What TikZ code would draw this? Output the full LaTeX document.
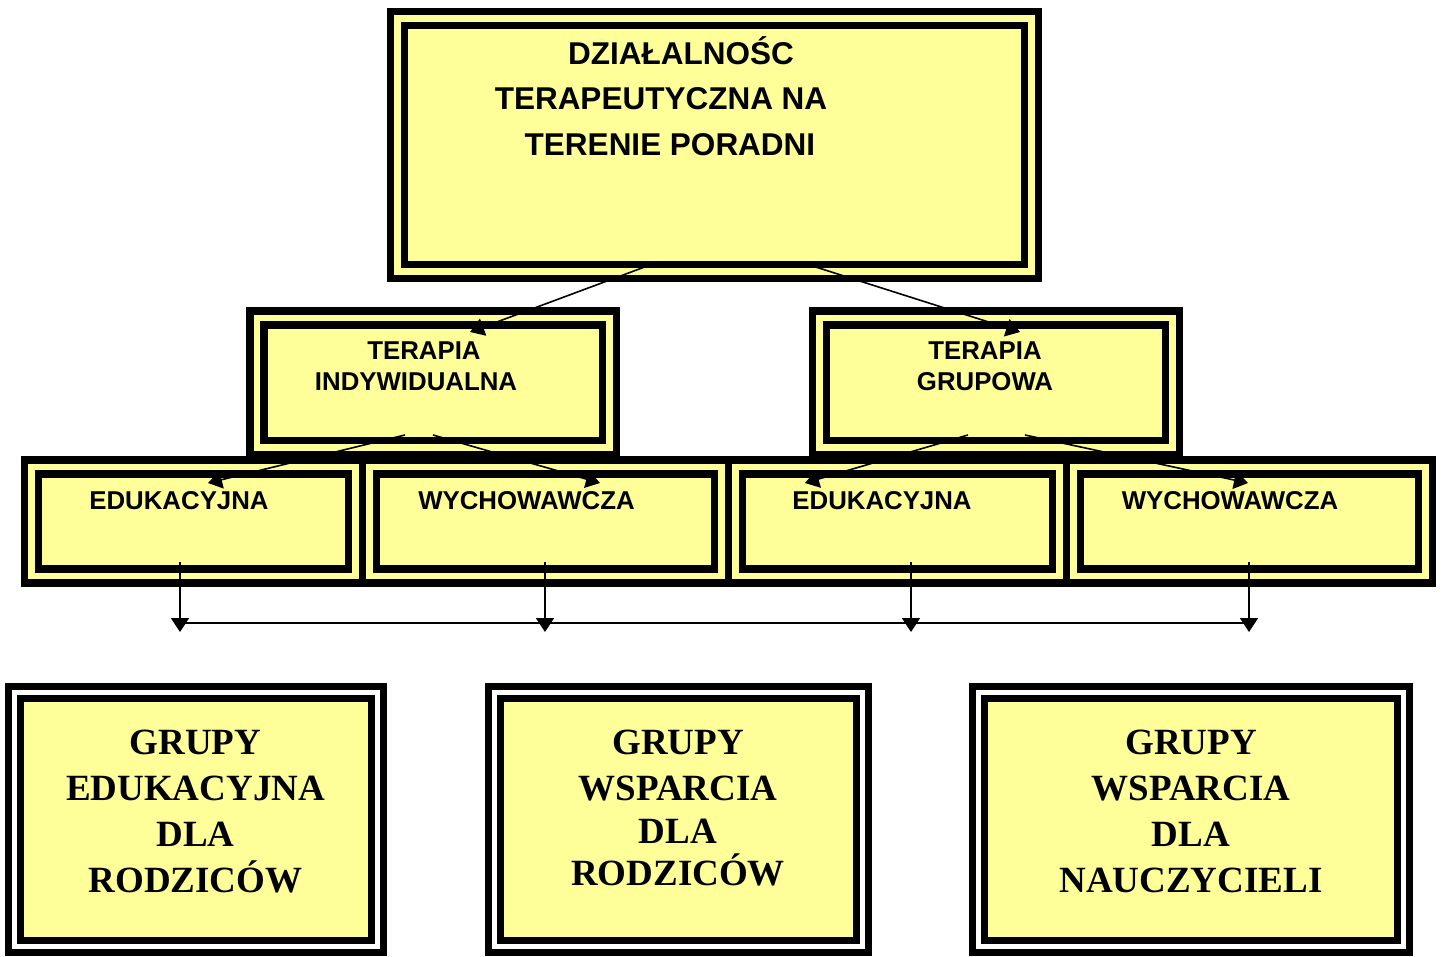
\documentclass[tikz,border=0pt]{standalone}
\usepackage{fontspec}
\setmainfont{Liberation Serif}
\setsansfont{Liberation Sans}
\usetikzlibrary{arrows.meta}
\definecolor{paleyellow}{RGB}{255,255,153}
\tikzset{
  box/.style={draw=black, fill=paleyellow, line width=7.5pt, double=paleyellow,
    double distance=6.5pt, inner sep=0pt, outer sep=0pt},
  groupbox/.style={draw=black, fill=paleyellow, line width=7pt, double=white,
    double distance=5pt, inner sep=0pt, outer sep=0pt},
  headtext/.style={font=\sffamily\bfseries\fontsize{31.5}{45.5}\selectfont, align=center, anchor=base},
  midtext/.style={font=\sffamily\bfseries\fontsize{25.8}{31}\selectfont, align=center, anchor=base},
  grouptext/.style={font=\rmfamily\bfseries\fontsize{37}{46}\selectfont, align=center, anchor=base},
  conn/.style={line width=1.6pt, -{Triangle[length=14pt,width=18pt]}}
}
\begin{document}
\begin{tikzpicture}[x=1pt, y=-1pt]
  \useasboundingbox (0,0) rectangle (1442,956);
  % boxes
  \node[box, minimum width=634pt, minimum height=252.75pt] (top) at (714.5,145.1) {};
  \node[box, minimum width=352.5pt, minimum height=129.5pt] (indyw) at (433.25,382.75) {};
  \node[box, minimum width=353.25pt, minimum height=129.5pt] (grup) at (996.1,382.75) {};
  \node[box, minimum width=323.75pt, minimum height=108.75pt] (edu1) at (193.6,521.4) {};
  \node[box, minimum width=352.25pt, minimum height=108.75pt] (wych1) at (545.6,521.4) {};
  \node[box, minimum width=324.25pt, minimum height=108.75pt] (edu2) at (897.6,521.4) {};
  \node[box, minimum width=351.75pt, minimum height=108.75pt] (wych2) at (1249.6,521.4) {};
  \node[groupbox, minimum width=362.75pt, minimum height=253.5pt] (gedu) at (196.1,819.25) {};
  \node[groupbox, minimum width=368.5pt, minimum height=253.5pt] (gwrodz) at (678.5,819.25) {};
  \node[groupbox, minimum width=425pt, minimum height=253.5pt] (gwnaucz) at (1191.25,819.25) {};
  % texts (anchored at the baseline of the last line)
  \node[headtext] (ttop) at (670,155) {\hspace*{22pt}DZIAŁALNOŚC\\\hspace*{-18pt}TERAPEUTYCZNA NA\\TERENIE PORADNI};
  \node[midtext] (tindyw) at (416,390) {\hspace*{16pt}TERAPIA\\INDYWIDUALNA};
  \node[midtext] (tgrup) at (985,390) {TERAPIA\\GRUPOWA};
  \node[midtext] (tedu1) at (179,509) {EDUKACYJNA};
  \node[midtext] (twych1) at (526.5,509) {WYCHOWAWCZA};
  \node[midtext] (tedu2) at (882,509) {EDUKACYJNA};
  \node[midtext] (twych2) at (1230,509) {WYCHOWAWCZA};
  \node[grouptext] (tgedu) at (195.5,892) {GRUPY\\EDUKACYJNA\\DLA\\RODZICÓW};
  \node[grouptext] (tgwrodz) at (678,885) {GRUPY\\WSPARCIA\\[-3pt]DLA\\[-4pt]RODZICÓW};
  \node[grouptext] (tgwnaucz) at (1191,892) {GRUPY\\WSPARCIA\\DLA\\NAUCZYCIELI};
  % connector ends
  \coordinate (top-l) at (658,262);
  \coordinate (top-r) at (800,262);
  \coordinate (indyw-in) at (470,332);
  \coordinate (grup-in) at (1020,332);
  \coordinate (indyw-l) at (405,435);
  \coordinate (indyw-r) at (433,435);
  \coordinate (grup-l) at (968,435);
  \coordinate (grup-r) at (1025,435);
  \coordinate (edu1-in) at (208,483);
  \coordinate (wych1-in) at (600,483);
  \coordinate (edu2-in) at (805,483);
  \coordinate (wych2-in) at (1248,483);
  \coordinate (edu1-out) at (180,562);
  \coordinate (wych1-out) at (545,562);
  \coordinate (edu2-out) at (911,562);
  \coordinate (wych2-out) at (1249,562);
  \coordinate (bus-1) at (180,632);
  \coordinate (bus-2) at (545,632);
  \coordinate (bus-3) at (911,632);
  \coordinate (bus-4) at (1249,632);
  \coordinate (bus-l) at (180,623);
  \coordinate (bus-r) at (1249,623);
  \begin{scope}
    \draw[conn] (top-l) -- (indyw-in);
    \draw[conn] (top-r) -- (grup-in);
    \draw[conn] (indyw-l) -- (edu1-in);
    \draw[conn] (indyw-r) -- (wych1-in);
    \draw[conn] (grup-l) -- (edu2-in);
    \draw[conn] (grup-r) -- (wych2-in);
    \draw[conn] (edu1-out) -- (bus-1);
    \draw[conn] (wych1-out) -- (bus-2);
    \draw[conn] (edu2-out) -- (bus-3);
    \draw[conn] (wych2-out) -- (bus-4);
    \draw[line width=1.3pt] (bus-l) -- (bus-r);
  \end{scope}
\end{tikzpicture}
\end{document}
